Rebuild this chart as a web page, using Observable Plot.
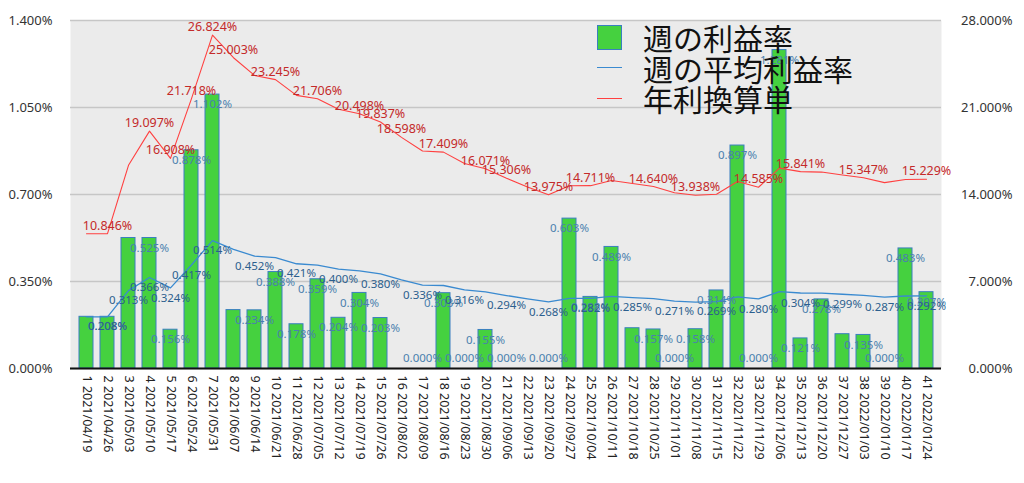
<!DOCTYPE html>
<html>
<head>
<meta charset="utf-8">
<script src="https://cdn.jsdelivr.net/npm/d3@7"></script>
<script src="https://cdn.jsdelivr.net/npm/@observablehq/plot@0.6"></script>
<style>
  html, body { margin: 0; padding: 0; background: #fff; }
  #wrap { position: relative; width: 1024px; height: 483px; }
  #legend { position: absolute; left: 597px; top: 22px; font-family: "Noto Sans CJK JP", sans-serif; font-size: 30px; color: #111; }
  .row { height: 30.5px; line-height: 30.5px; display: flex; align-items: center; white-space: nowrap; }
  .sw { width: 25px; height: 25px; margin-right: 21px; box-sizing: border-box; display: flex; align-items: center; }
  .sq { width: 25px; height: 25px; background: #45d13f; border: 1.5px solid #3a7fc0; box-sizing: border-box; }
  .ln { width: 25px; height: 0; }
</style>
</head>
<body>
<div id="wrap">
  <div id="chart"></div>
  <div id="legend">
    <div class="row"><div class="sw"><div class="sq"></div></div>週の利益率</div>
    <div class="row"><div class="sw"><div class="ln" style="border-top:1.5px solid #3a8ad0"></div></div>週の平均利益率</div>
    <div class="row"><div class="sw"><div class="ln" style="border-top:1.5px solid #ff4040"></div></div>年利換算単</div>
  </div>
</div>
<script>
const weeks = [1,2,3,4,5,6,7,8,9,10,11,12,13,14,15,16,17,18,19,20,21,22,23,24,25,26,27,28,29,30,31,32,33,34,35,36,37,38,39,40,41];
const dates = ["2021/04/19","2021/04/26","2021/05/03","2021/05/10","2021/05/17","2021/05/24","2021/05/31","2021/06/07","2021/06/14","2021/06/21","2021/06/28","2021/07/05","2021/07/12","2021/07/19","2021/07/26","2021/08/02","2021/08/09","2021/08/16","2021/08/23","2021/08/30","2021/09/06","2021/09/13","2021/09/20","2021/09/27","2021/10/04","2021/10/11","2021/10/18","2021/10/25","2021/11/01","2021/11/08","2021/11/15","2021/11/22","2021/11/29","2021/12/06","2021/12/13","2021/12/20","2021/12/27","2022/01/03","2022/01/10","2022/01/17","2022/01/24"];
// 週の利益率 (%)
const weeklyRate = [0.208,0.208,0.525,0.525,0.156,0.878,1.102,0.235,0.234,0.388,0.178,0.359,0.204,0.304,0.203,0,0,0.303,0,0.155,0,0,0,0.603,0.288,0.489,0.162,0.157,0,0.158,0.314,0.897,0,1.281,0.121,0.278,0.138,0.135,0,0.483,0.307];
// 週の平均利益率 (%)
const avgRate = [0.208,0.208,0.3134,0.36624,0.32426,0.41651,0.51443,0.47951,0.45221,0.44579,0.4214,0.41628,0.3999,0.39311,0.38043,0.35667,0.33569,0.33387,0.3163,0.30821,0.29354,0.28019,0.26801,0.28197,0.28213,0.29009,0.28534,0.28077,0.27109,0.2673,0.26881,0.28844,0.27971,0.30916,0.3038,0.30308,0.29863,0.29433,0.28678,0.29169,0.29206];
// 年利換算単 (%)
const annualRate = [10.846,10.846,16.347,19.097,16.908,21.718,26.824,25.003,23.579,23.245,21.976,21.706,20.855,20.498,19.837,18.598,17.504,17.409,16.493,16.071,15.306,14.610,13.975,14.703,14.711,15.126,14.879,14.640,14.135,13.938,14.017,15.040,14.585,16.121,15.841,15.804,15.572,15.347,14.954,15.210,15.229];
// weeks whose value labels are visible in the reference
const barLabelWeeks = [2,4,5,6,7,9,10,11,12,13,14,15,17,18,19,20,21,23,24,25,26,28,29,30,31,32,33,34,35,36,38,39,40,41];
const avgLabelWeeks = [2,3,4,5,6,7,9,11,13,15,17,19,21,23,25,27,29,31,33,35,37,39,41];
const annLabelWeeks = [2,4,5,6,7,8,10,12,14,15,16,18,20,21,23,25,28,30,33,35,38,41];
const leftTicks = [0, 0.35, 0.7, 1.05, 1.4];
const rightTicks = [0, 7, 14, 21, 28];

const data = weeks.map((w, i) => ({
  week: w,
  label: w + " " + dates[i],
  bar: weeklyRate[i],
  avg: avgRate[i],
  ann: annualRate[i]
}));
const ratio = 1.4 / 28;
const num = "'Noto Sans', sans-serif";

const barLab = data.filter(d => barLabelWeeks.includes(d.week));
const avgLab = data.filter(d => avgLabelWeeks.includes(d.week));
const annLab = data.filter(d => annLabelWeeks.includes(d.week));

const chart = Plot.plot({
  width: 1024,
  height: 483,
  marginTop: 20,
  marginBottom: 115,
  marginLeft: 70,
  marginRight: 83,
  style: {background: "#fff", fontFamily: num},
  x: {type: "band", domain: data.map(d => d.label), paddingInner: 0.34, paddingOuter: 0.155},
  y: {domain: [0, 1.4]},
  marks: [
    Plot.frame({fill: "#ebebeb", stroke: null}),
    Plot.gridY(leftTicks, {stroke: "#c6c6c6", strokeOpacity: 1, strokeWidth: 1.5}),
    Plot.barY(data, {x: "label", y: "bar", fill: "#45d13f", stroke: "#3a7fc0", strokeWidth: 1}),
    Plot.ruleY([0], {stroke: "#111", strokeWidth: 2}),
    Plot.line(data, {x: "label", y: "avg", stroke: "#3a8ad0", strokeWidth: 1.3}),
    Plot.line(data, {x: "label", y: d => d.ann * ratio, stroke: "#ff4040", strokeWidth: 1.1}),
    Plot.text(barLab.filter(d => d.bar > 0), {x: "label", y: "bar", text: d => d.bar.toFixed(3) + "%", dy: 10, fill: "#4a7fae", fontSize: 11.5, fontFamily: num}),
    Plot.text(barLab.filter(d => d.bar === 0), {x: "label", y: "bar", text: d => d.bar.toFixed(3) + "%", dy: -10, fill: "#4a7fae", fontSize: 11.5, fontFamily: num}),
    Plot.text(avgLab, {x: "label", y: "avg", text: d => d.avg.toFixed(3) + "%", dy: 10, fill: "#2b5f8e", fontSize: 11.5, fontFamily: num}),
    Plot.text(annLab, {x: "label", y: d => d.ann * ratio, text: d => d.ann.toFixed(3) + "%", dy: -8, fill: "#c42a2a", fontSize: 12.5, fontFamily: num}),
    Plot.axisX({tickRotate: 90, tickSize: 0, tickPadding: 7, fontSize: 12.5, fill: "#222", label: null}),
    Plot.axisY(leftTicks, {tickSize: 0, tickPadding: 18, fontSize: 13, fill: "#333", tickFormat: d => d.toFixed(3) + "%", label: null}),
    Plot.text(rightTicks, {y: d => d * ratio, text: d => d.toFixed(3) + "%", frameAnchor: "right", dx: 71, textAnchor: "end", fontSize: 13, fill: "#333", fontFamily: num})
  ]
});
document.getElementById("chart").appendChild(chart);
</script>
</body>
</html>
